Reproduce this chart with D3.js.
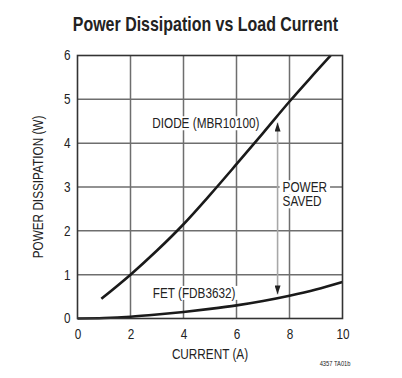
<!DOCTYPE html>
<html>
<head>
<meta charset="utf-8">
<script src="https://cdn.jsdelivr.net/npm/d3@7"></script>
<style>
  body { margin: 0; background: #fff; }
  text { font-family: "Liberation Sans", Arial, sans-serif; fill: #222; }
</style>
</head>
<body>
<div id="chart"></div>
<script>
"use strict";

// values
const diodeCurrent = [0.9, 2, 3, 4, 5, 6, 7, 8, 9, 9.55];
const diodePower = [0.45, 1.0, 1.55, 2.15, 2.82, 3.52, 4.23, 4.95, 5.63, 6.0];

const fetCurrent = [0, 1, 2, 3, 4, 5, 6, 7, 8, 9, 10];
const fetPower = [0, 0.01, 0.04, 0.09, 0.15, 0.22, 0.3, 0.4, 0.52, 0.66, 0.83];

const xTicks = [0, 2, 4, 6, 8, 10];
const yTicks = [0, 1, 2, 3, 4, 5, 6];

// "power saved" arrow: current, top and bottom ends (W)
const arrowCurrent = 7.55,
    arrowTop = 4.47,
    arrowBottom = 0.55;

// annotation labels [current, power, text]
const labels = [
    { x: 2.82, y: 4.34, text: "DIODE (MBR10100)" },
    { x: 2.84, y: 0.47, text: "FET (FDB3632)" },
    { x: 7.74, y: 2.88, text: "POWER" },
    { x: 7.74, y: 2.56, text: "SAVED" }
];

const svgWidth = 402,
    svgHeight = 378;

const margin = { top: 55.5, right: 59.5, bottom: 59.5, left: 77.5 },
    width = svgWidth - margin.left - margin.right,
    height = svgHeight - margin.top - margin.bottom;

const squeezeNormal = 0.84,
    gridColor = "#6e6e6e";

// squeeze text horizontally to look like a condensed face
function squeeze(sel, k) {
    sel.each(function () {
        const w = this.getComputedTextLength();
        this.setAttribute("textLength", w * k);
        this.setAttribute("lengthAdjust", "spacingAndGlyphs");
    });
}

const svg = d3.select("#chart").append("svg")
    .attr("width", svgWidth)
    .attr("height", svgHeight);

// title
svg.append("text")
    .attr("x", 205.4)
    .attr("y", 31)
    .attr("text-anchor", "middle")
    .style("font-size", "21px")
    .style("font-weight", "bold")
    .text("Power Dissipation vs Load Current")
    .call(squeeze, 0.76);

const g = svg.append("g")
    .attr("transform", `translate(${margin.left},${margin.top})`);

const x = d3.scaleLinear().domain([0, 10]).range([0, width]);
const y = d3.scaleLinear().domain([0, 6]).range([height, 0]);

// x tick labels
const xAxis = g.append("g")
    .attr("transform", `translate(0,${height})`)
    .call(d3.axisBottom(x).tickValues(xTicks).tickSize(0).tickPadding(8));
xAxis.select(".domain").remove();
xAxis.selectAll("text")
    .attr("dy", "0")
    .attr("y", 20)
    .attr("fill", "#222")
    .style("font-size", "14px")
    .call(squeeze, squeezeNormal);

// y tick labels
const yAxis = g.append("g")
    .call(d3.axisLeft(y).tickValues(yTicks).tickFormat(d3.format("d"))
        .tickSize(0).tickPadding(7));
yAxis.select(".domain").remove();
yAxis.selectAll("text")
    .attr("fill", "#222")
    .style("font-size", "14px")
    .call(squeeze, squeezeNormal);

// grid lines
for (const d of xTicks.slice(1, -1)) {
    g.append("line")
        .attr("x1", x(d)).attr("x2", x(d))
        .attr("y1", 0).attr("y2", height)
        .style("stroke", gridColor)
        .style("stroke-width", "1.5px");
}
for (const d of yTicks.slice(1, -1)) {
    g.append("line")
        .attr("x1", 0).attr("x2", width)
        .attr("y1", y(d)).attr("y2", y(d))
        .style("stroke", gridColor)
        .style("stroke-width", "1.5px");
}

// axis titles
svg.append("text")
    .attr("transform", `translate(43,${margin.top + height / 2}) rotate(-90)`)
    .attr("text-anchor", "middle")
    .style("font-size", "14px")
    .text("POWER DISSIPATION (W)")
    .call(squeeze, squeezeNormal);

svg.append("text")
    .attr("x", margin.left + width / 2)
    .attr("y", 358.5)
    .attr("text-anchor", "middle")
    .style("font-size", "14px")
    .text("CURRENT (A)")
    .call(squeeze, squeezeNormal);

svg.append("text")
    .attr("x", 350.5)
    .attr("y", 366)
    .attr("text-anchor", "end")
    .style("font-size", "8px")
    .text("4357 TA01b")
    .call(squeeze, 0.72);

// annotation labels on white boxes
labels.forEach(function (lab) {
    const lg = g.append("g");
    const t = lg.append("text")
        .attr("x", x(lab.x))
        .attr("y", y(lab.y))
        .style("font-size", "14px")
        .text(lab.text)
        .call(squeeze, squeezeNormal);
    const w = +t.attr("textLength");
    lg.insert("rect", "text")
        .attr("x", x(lab.x) - 3)
        .attr("y", y(lab.y) - 12)
        .attr("width", w + 6)
        .attr("height", 14)
        .attr("fill", "#fff");
});

// power saved arrow
svg.append("defs").append("marker")
    .attr("id", "head")
    .attr("viewBox", "0 0 10 10")
    .attr("refX", 10).attr("refY", 5)
    .attr("markerUnits", "userSpaceOnUse")
    .attr("markerWidth", 9).attr("markerHeight", 6)
    .attr("orient", "auto-start-reverse")
    .attr("preserveAspectRatio", "none")
    .append("path")
    .attr("d", "M0,0L10,5L0,10Z")
    .attr("fill", "#222");

g.append("line")
    .attr("x1", x(arrowCurrent)).attr("x2", x(arrowCurrent))
    .attr("y1", y(arrowTop)).attr("y2", y(arrowBottom))
    .attr("stroke", "#a8a8a8")
    .attr("stroke-width", 1.6)
    .attr("marker-start", "url(#head)")
    .attr("marker-end", "url(#head)");

// curves
const line = d3.line()
    .x(d => x(d[0]))
    .y(d => y(d[1]))
    .curve(d3.curveMonotoneX);

g.append("path")
    .datum(d3.zip(diodeCurrent, diodePower))
    .attr("d", line)
    .attr("fill", "none")
    .attr("stroke", "#1a1a1a")
    .attr("stroke-width", 2.6);

g.append("path")
    .datum(d3.zip(fetCurrent, fetPower))
    .attr("d", line)
    .attr("fill", "none")
    .attr("stroke", "#1a1a1a")
    .attr("stroke-width", 2.6);

// frame
g.append("rect")
    .attr("width", width)
    .attr("height", height)
    .attr("fill", "none")
    .attr("stroke", "#333")
    .attr("stroke-width", 1.6);
</script>
</body>
</html>
